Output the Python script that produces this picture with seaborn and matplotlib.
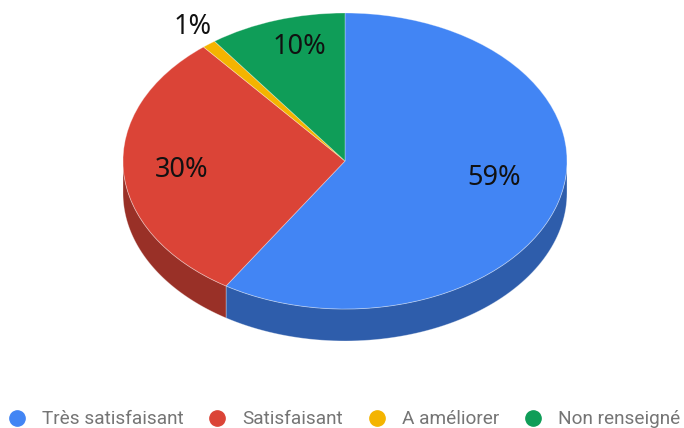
import numpy as np
import matplotlib
matplotlib.use('Agg')
import matplotlib.pyplot as plt
from matplotlib.patches import Polygon
from matplotlib.lines import Line2D
import seaborn as sns

# ── Data ──────────────────────────────────────────────────────────
CATEGORIES = ['Très satisfaisant', 'Satisfaisant', 'A améliorer', 'Non renseigné']
VALUES     = [59, 30, 1, 10]
COLORS     = ['#4285F4', '#DB4437', '#F4B400', '#0F9D58']

# ── Layout (pixels of a 684x428 canvas) ───────────────────────────
W, H     = 684, 428
CX, CY   = 345, 161      # centre of the top face (from top)
RX, RY   = 222, 148      # ellipse radii
DEPTH    = 32            # thickness of the 3D rim
SHADE    = 0.70          # darkening for the rim

# label placement : radius (unit circle) + angle nudge (deg)
LABEL_R     = [0.68, 0.74, 1.135, 0.80]
LABEL_SHIFT = [6.5, 1.1, -0.7, -3.2]

sns.set_theme(style='white')
plt.rcParams['font.family'] = ['Noto Sans', 'DejaVu Sans']


def darker(hex_color, k=SHADE):
    r, g, b = matplotlib.colors.to_rgb(hex_color)
    return (r * k, g * k, b * k)


def draw_rim(ax, wedges, depth):
    """Front side of the pie : only the part facing the viewer (sin < 0)."""
    for w, col in zip(wedges, COLORS):
        t1, t2 = w.theta1, w.theta2
        for k in range(-2, 2):
            a = max(t1, -180 + 360 * k)
            b = min(t2, 0 + 360 * k)
            if b <= a:
                continue
            t = np.radians(np.linspace(a, b, 80))
            top = np.column_stack([np.cos(t), np.sin(t)])
            bot = np.column_stack([np.cos(t[::-1]), np.sin(t[::-1]) - depth])
            ax.add_patch(Polygon(np.vstack([top, bot]), closed=True,
                                 facecolor=darker(col),
                                 edgecolor=(1, 1, 1, 0.35), linewidth=0.6,
                                 zorder=0.5))


def plot_pie():
    fig = plt.figure(figsize=(W / 100, H / 100), dpi=100)
    ax = fig.add_axes([0, 0, 1, 1])

    wedges, _ = ax.pie(VALUES, colors=COLORS, startangle=90, counterclock=False,
                       radius=1,
                       wedgeprops=dict(linewidth=0.6, edgecolor=(1, 1, 1, 0.35)))
    for w in wedges:
        w.set_zorder(1)

    draw_rim(ax, wedges, DEPTH / RY)

    # percent labels
    total = sum(VALUES)
    for w, v, r, s in zip(wedges, VALUES, LABEL_R, LABEL_SHIFT):
        mid = np.radians((w.theta1 + w.theta2) / 2 + s)
        ax.text(r * np.cos(mid), r * np.sin(mid), f'{round(100 * v / total)}%',
                ha='center', va='center', fontsize=19.5, color='#111111',
                zorder=3)

    # stretch unit circle into the ellipse
    ax.set_aspect('auto')
    ax.set_xlim(-CX / RX, (W - CX) / RX)
    ax.set_ylim(-(H - CY) / RY, CY / RY)
    ax.axis('off')

    # legend
    handles = [Line2D([], [], marker='o', linestyle='', markersize=11,
                      markerfacecolor=c, markeredgecolor=c) for c in COLORS]
    fig.legend(handles, CATEGORIES, loc='center left',
               bbox_to_anchor=(7.5 / W, 8.5 / H), ncol=4, frameon=False,
               handlelength=1.0, handletextpad=0.82, columnspacing=1.27,
               borderpad=0, borderaxespad=0,
               prop={'family': 'Roboto', 'size': 13.7},
               labelcolor='#757575')

    plt.savefig('out.png', dpi=100)


if __name__ == '__main__':
    plot_pie()
